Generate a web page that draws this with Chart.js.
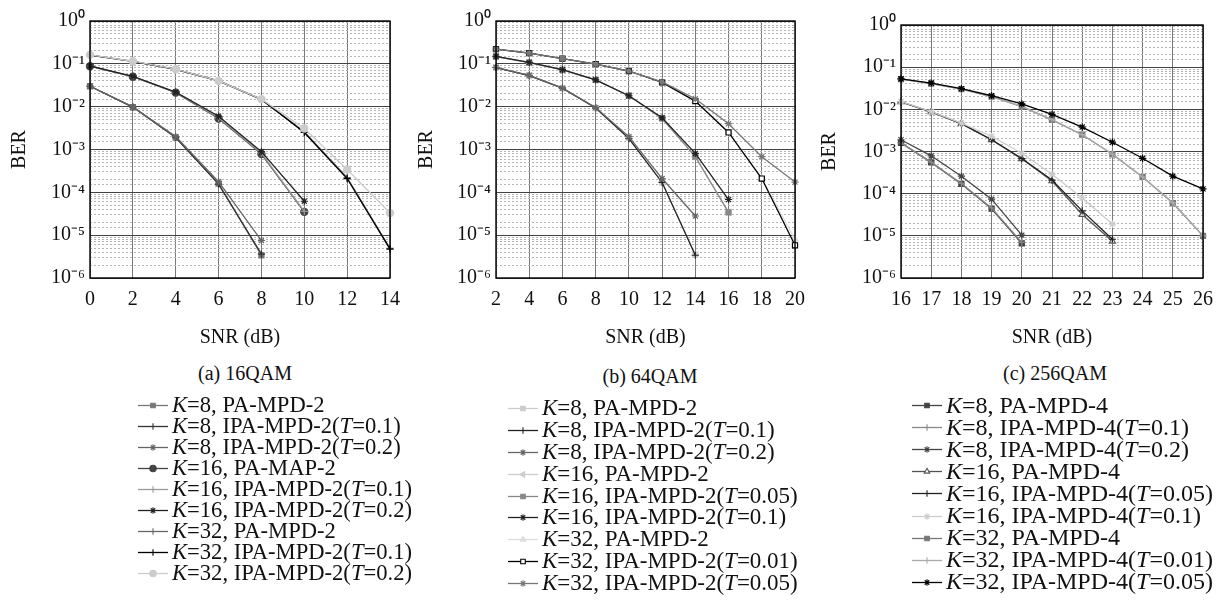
<!DOCTYPE html>
<html>
<head>
<meta charset="utf-8">
<script src="https://cdn.jsdelivr.net/npm/chart.js@4.4.1/dist/chart.umd.min.js"></script>
<style>
    body { margin: 0; width: 1223px; height: 607px; background: #fff; position: relative; overflow: hidden;
           font-family: "Liberation Serif", serif; color: #111; }
    .plot { position: absolute; top: 0; }
    .cap { position: absolute; font-size: 20px; transform: translate(-50%, -50%); white-space: nowrap; }
    .legend { position: absolute; }
    .legend .row { display: flex; align-items: center; white-space: nowrap; }
    .legend canvas { margin-right: 4px; }
</style>
</head>
<body>
<canvas id="chartA" class="plot" style="left:0px" width="410" height="352"></canvas>
<canvas id="chartB" class="plot" style="left:405px" width="410" height="352"></canvas>
<canvas id="chartC" class="plot" style="left:815px" width="408" height="352"></canvas>

<div class="cap" style="left:245px; top:373px">(a) 16QAM</div>
<div class="cap" style="left:650px; top:376px">(b) 64QAM</div>
<div class="cap" style="left:1055px; top:373px">(c) 256QAM</div>

<div id="legendA" class="legend" style="left:138px; top:394px; font-size:22.6px"></div>
<div id="legendB" class="legend" style="left:508px; top:397px; font-size:23px"></div>
<div id="legendC" class="legend" style="left:912px; top:394px; font-size:24px"></div>

<script>
// ---- x values (SNR in dB) ----
const snrA = [0, 2, 4, 6, 8, 10, 12, 14];
const snrB = [2, 4, 6, 8, 10, 12, 14, 16, 18, 20];
const snrC = [16, 17, 18, 19, 20, 21, 22, 23, 24, 25, 26];

// ---- (a) 16QAM ----
const namesA = [
    'K=8, PA-MPD-2', 'K=8, IPA-MPD-2(T=0.1)', 'K=8, IPA-MPD-2(T=0.2)',
    'K=16, PA-MAP-2', 'K=16, IPA-MPD-2(T=0.1)', 'K=16, IPA-MPD-2(T=0.2)',
    'K=32, PA-MPD-2', 'K=32, IPA-MPD-2(T=0.1)', 'K=32, IPA-MPD-2(T=0.2)'
];
const berA = [
    [0.030, 0.0098, 0.0019, 1.60e-4, 3.4e-6],
    [0.030, 0.0098, 0.0019, 1.56e-4, 3.6e-6],
    [0.030, 0.0099, 0.0020, 1.77e-4, 7.5e-6],
    [0.088, 0.050, 0.0213, 0.0053, 7.8e-4, 3.5e-5],
    [0.088, 0.050, 0.0214, 0.0055, 8.2e-4, 3.6e-5],
    [0.089, 0.051, 0.0218, 0.0060, 8.9e-4, 6.2e-5],
    [0.160, 0.114, 0.074, 0.040, 0.0148, 0.0026, 2.2e-4, 4.9e-6],
    [0.160, 0.114, 0.074, 0.040, 0.0148, 0.0025, 2.1e-4, 4.7e-6],
    [0.162, 0.115, 0.075, 0.040, 0.0150, 0.0031, 3.4e-4, 3.3e-5]
];

// ---- (b) 64QAM ----
const namesB = [
    'K=8, PA-MPD-2', 'K=8, IPA-MPD-2(T=0.1)', 'K=8, IPA-MPD-2(T=0.2)',
    'K=16, PA-MPD-2', 'K=16, IPA-MPD-2(T=0.05)', 'K=16, IPA-MPD-2(T=0.1)',
    'K=32, PA-MPD-2', 'K=32, IPA-MPD-2(T=0.01)', 'K=32, IPA-MPD-2(T=0.05)'
];
const berB = [
    [0.082, 0.053, 0.027, 0.0093, 0.0019, 1.7e-4, 3.5e-6],
    [0.082, 0.053, 0.027, 0.0093, 0.0018, 1.7e-4, 3.4e-6],
    [0.083, 0.054, 0.027, 0.0095, 0.0020, 2.1e-4, 2.8e-5],
    [0.148, 0.107, 0.072, 0.042, 0.018, 0.0053, 6.8e-4, 3.4e-5],
    [0.148, 0.107, 0.072, 0.042, 0.018, 0.0053, 6.8e-4, 3.4e-5],
    [0.150, 0.108, 0.073, 0.042, 0.018, 0.0055, 8.1e-4, 6.8e-5],
    [0.220, 0.177, 0.133, 0.098, 0.068, 0.037, 0.0135, 0.0025, 2.1e-4, 8.0e-6],
    [0.220, 0.177, 0.133, 0.098, 0.068, 0.037, 0.0135, 0.0025, 2.1e-4, 5.8e-6],
    [0.220, 0.177, 0.133, 0.098, 0.068, 0.038, 0.0153, 0.0040, 6.8e-4, 1.74e-4]
];

// ---- (c) 256QAM ----
const namesC = [
    'K=8, PA-MPD-4', 'K=8, IPA-MPD-4(T=0.1)', 'K=8, IPA-MPD-4(T=0.2)',
    'K=16, PA-MPD-4', 'K=16, IPA-MPD-4(T=0.05)', 'K=16, IPA-MPD-4(T=0.1)',
    'K=32, PA-MPD-4', 'K=32, IPA-MPD-4(T=0.01)', 'K=32, IPA-MPD-4(T=0.05)'
];
const berC = [
    [0.0016, 5.5e-4, 1.7e-4, 4.4e-5, 6.6e-6],
    [0.0016, 5.6e-4, 1.75e-4, 4.6e-5, 7.0e-6],
    [0.0019, 7.9e-4, 2.6e-4, 7.4e-5, 1.04e-5],
    [0.015, 0.0087, 0.0046, 0.0019, 6.7e-4, 2.0e-4, 3.2e-5, 7.4e-6],
    [0.015, 0.0087, 0.0046, 0.0019, 6.8e-4, 2.1e-4, 3.9e-5, 8.3e-6],
    [0.0152, 0.0088, 0.0047, 0.0023, 9.1e-4, 2.9e-4, 7.9e-5, 1.9e-5],
    [0.052, 0.041, 0.030, 0.020, 0.0116, 0.0056, 0.0025, 8.6e-4, 2.5e-4, 6.0e-5, 1.0e-5],
    [0.052, 0.041, 0.030, 0.020, 0.0117, 0.0057, 0.0025, 8.7e-4, 2.5e-4, 6.1e-5, 1.0e-5],
    [0.053, 0.042, 0.031, 0.021, 0.0134, 0.0076, 0.0038, 0.00166, 6.9e-4, 2.6e-4, 1.3e-4]
];

// ---- styles (grayscale lines + markers) ----
const stylesA = [
    { color: '#777', marker: 'rect' },     { color: '#333', marker: 'cross' },  { color: '#666', marker: 'star' },
    { color: '#444', marker: 'circle' },   { color: '#999', marker: 'cross' },  { color: '#222', marker: 'star' },
    { color: '#666', marker: 'cross' },    { color: '#000', marker: 'cross' },  { color: '#ccc', marker: 'circle' }
];
const stylesB = [
    { color: '#ccc', marker: 'rect' },     { color: '#222', marker: 'cross' },  { color: '#666', marker: 'star' },
    { color: '#ccc', marker: 'triangle', rot: -90 }, { color: '#888', marker: 'rect' }, { color: '#222', marker: 'star' },
    { color: '#ddd', marker: 'triangle' }, { color: '#000', marker: 'rect', fill: '#fff' }, { color: '#777', marker: 'star' }
];
const stylesC = [
    { color: '#444', marker: 'rect' },     { color: '#888', marker: 'cross' },  { color: '#444', marker: 'star' },
    { color: '#555', marker: 'triangle', fill: '#fff' }, { color: '#222', marker: 'cross' }, { color: '#ccc', marker: 'star' },
    { color: '#777', marker: 'rect' },     { color: '#aaa', marker: 'cross' },  { color: '#000', marker: 'star' }
];

const FONT = "'Liberation Serif', serif";

const toSup = (n) => String(n).split('').map(c => ({ '-': '\u207B', '0': '\u2070', '1': '\u00B9', '2': '\u00B2',
    '3': '\u00B3', '4': '\u2074', '5': '\u2075', '6': '\u2076', '7': '\u2077', '8': '\u2078', '9': '\u2079' }[c])).join('');

const isDecade = (v) => {
    const e = Math.log10(v);
    return Math.abs(e - Math.round(e)) < 1e-6;
};

// black box round the plot area
const framePlugin = {
    id: 'frame',
    afterDatasetsDraw(chart) {
        const { ctx, chartArea: a } = chart;
        ctx.save();
        ctx.strokeStyle = '#000';
        ctx.lineWidth = 1.4;
        ctx.strokeRect(a.left, a.top, a.right - a.left, a.bottom - a.top);
        ctx.restore();
    }
};

const makeChart = (id, snr, names, ber, styles, xOpts, box) => {
    const n = names.length;
    const datasets = names.map((name, i) => ({
        label: name,
        data: ber[i].map((v, j) => ({ x: snr[j], y: v })).filter(p => p.y != null),
        borderColor: styles[i].color,
        backgroundColor: styles[i].fill || styles[i].color,
        borderWidth: 1.3,
        pointStyle: styles[i].marker,
        pointRotation: styles[i].rot || 0,
        pointRadius: 3.6,
        pointBorderWidth: 1.2,
        tension: 0,
        clip: false,
        order: n - i // later series drawn on top
    }));

    new Chart(document.getElementById(id), {
        type: 'line',
        data: { datasets },
        options: {
            responsive: false,
            animation: false,
            layout: { padding: { top: box.top, right: box.right, left: 0, bottom: 0 } },
            plugins: { legend: { display: false }, tooltip: { enabled: false } },
            scales: {
                x: {
                    type: 'linear',
                    min: xOpts.min,
                    max: xOpts.max,
                    afterFit: (scale) => { scale.height = box.xHeight; },
                    ticks: { stepSize: xOpts.step, color: '#111', padding: 10, font: { family: FONT, size: 20 } },
                    grid: { color: '#7a7a7a', lineWidth: 1, drawTicks: false },
                    border: { display: false },
                    title: { display: true, text: 'SNR (dB)', color: '#111', padding: { top: 0, bottom: 2 },
                             font: { family: FONT, size: 20 } }
                },
                y: {
                    type: 'logarithmic',
                    min: 1e-6,
                    max: 1,
                    afterFit: (scale) => { scale.width = box.yWidth; },
                    ticks: {
                        autoSkip: false,
                        color: '#111',
                        padding: 5,
                        font: { family: FONT, size: 20 },
                        callback: (v) => isDecade(v) ? '10' + toSup(Math.round(Math.log10(v))) : ''
                    },
                    grid: {
                        drawTicks: false,
                        color: (ctx) => (ctx.tick && isDecade(ctx.tick.value)) ? '#444' : '#b4b4b4',
                        lineWidth: 1
                    },
                    border: {
                        display: false,
                        dash: (ctx) => (ctx.tick && !isDecade(ctx.tick.value)) ? [2, 2] : []
                    },
                    title: { display: true, text: 'BER', color: '#111', padding: { top: box.berPad, bottom: 0 },
                             font: { family: FONT, size: 20 } }
                }
            }
        },
        plugins: [framePlugin]
    });
};

makeChart('chartA', snrA, namesA, berA, stylesA, { min: 0, max: 14, step: 2 },
    { top: 21, right: 11, yWidth: 90, xHeight: 74, berPad: 8 });
makeChart('chartB', snrB, namesB, berB, stylesB, { min: 2, max: 20, step: 2 },
    { top: 21, right: 11, yWidth: 91, xHeight: 74, berPad: 10 });
makeChart('chartC', snrC, namesC, berC, stylesC, { min: 16, max: 26, step: 1 },
    { top: 25, right: 13, yWidth: 86, xHeight: 74, berPad: 3 });

// HTML legends, one row per series, with a small sample of line + marker
const buildLegend = (id, names, styles, rowH) => {
    const box = document.getElementById(id);
    names.forEach((name, i) => {
        const row = document.createElement('div');
        row.className = 'row';
        row.style.height = rowH + 'px';
        const c = document.createElement('canvas');
        c.width = 30; c.height = Math.round(rowH);
        const ctx = c.getContext('2d');
        const mid = Math.round(rowH / 2) + 0.5;
        ctx.strokeStyle = styles[i].color;
        ctx.fillStyle = styles[i].fill || styles[i].color;
        ctx.lineWidth = 1.3;
        ctx.beginPath(); ctx.moveTo(0, mid); ctx.lineTo(30, mid); ctx.stroke();
        ctx.lineWidth = 1.1;
        Chart.helpers.drawPoint(ctx, { pointStyle: styles[i].marker, rotation: styles[i].rot || 0,
            radius: 3.2, borderWidth: 1.1 }, 15, mid);
        const t = document.createElement('span');
        t.innerHTML = name.replace(/([KT])=/g, '<i>$1</i>=');
        row.appendChild(c);
        row.appendChild(t);
        box.appendChild(row);
    });
};

buildLegend('legendA', namesA, stylesA, 21);
buildLegend('legendB', namesB, stylesB, 21.9);
buildLegend('legendC', namesC, stylesC, 22.1);
</script>
</body>
</html>
